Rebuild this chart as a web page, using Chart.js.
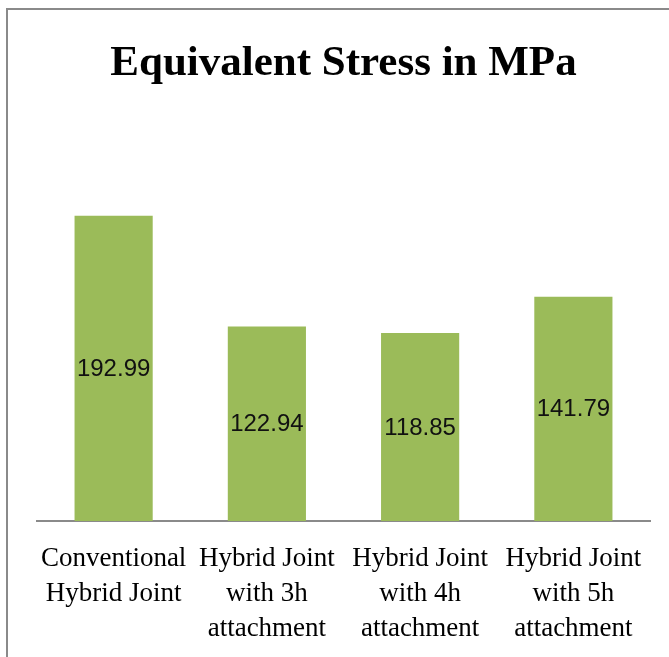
<!DOCTYPE html>
<html>
<head>
<meta charset="utf-8">
<script src="https://cdn.jsdelivr.net/npm/chart.js@4/dist/chart.umd.min.js"></script>
<style>
  html, body { margin: 0; padding: 0; background: #fff; }
  #wrap { position: relative; width: 669px; height: 657px; overflow: hidden; }
  #stress-chart { position: absolute; left: 0; top: 0; }
  /* chart frame: only top and left edges show inside the crop */
  #frame {
    position: absolute; left: 6px; top: 8px; width: 700px; height: 700px;
    border-top: 2px solid #8a8a8a; border-left: 2px solid #8a8a8a;
    pointer-events: none;
  }
</style>
</head>
<body>
<div id="wrap">
  <canvas id="stress-chart" width="669" height="657"></canvas>
  <div id="frame"></div>
</div>
<script>
(function () {
    'use strict';

    /* ── Data ── */
    var categories = [
        ['Conventional', 'Hybrid Joint'],
        ['Hybrid Joint', 'with 3h', 'attachment'],
        ['Hybrid Joint', 'with 4h', 'attachment'],
        ['Hybrid Joint', 'with 5h', 'attachment']
    ];
    var stressValues = [192.99, 122.94, 118.85, 141.79];
    var yAxisMax = 250;

    var barGreen = '#9bbb59';

    /* ── Value labels drawn in the middle of each bar ── */
    var centreLabels = {
        id: 'centreLabels',
        afterDatasetsDraw: function (chart) {
            var ctx = chart.ctx;
            var meta = chart.getDatasetMeta(0);
            ctx.save();
            ctx.font = '24px "Liberation Sans", Arial, sans-serif';
            ctx.fillStyle = '#111';
            ctx.textAlign = 'center';
            ctx.textBaseline = 'middle';
            meta.data.forEach(function (bar, i) {
                var mid = (bar.y + bar.base) / 2;
                ctx.fillText(stressValues[i].toFixed(2), bar.x, mid + 1);
            });
            ctx.restore();
        }
    };

    new Chart(document.getElementById('stress-chart'), {
        type: 'bar',
        data: {
            labels: categories,
            datasets: [{
                label: 'Equivalent Stress',
                data: stressValues,
                backgroundColor: barGreen,
                borderWidth: 0,
                categoryPercentage: 1,
                barPercentage: 0.51
            }]
        },
        options: {
            responsive: false,
            animation: false,
            devicePixelRatio: 1,
            layout: {
                padding: { left: 37, right: 19, top: 0, bottom: 0 }
            },
            plugins: {
                legend: { display: false },
                tooltip: { enabled: false },
                title: {
                    display: true,
                    text: 'Equivalent Stress in MPa',
                    color: '#000',
                    font: { family: '"Liberation Serif", "Times New Roman", serif', size: 43, weight: 'bold', lineHeight: 1.2 },
                    padding: { top: 38, bottom: 36 }
                }
            },
            scales: {
                x: {
                    grid: { display: false },
                    border: { display: true, color: '#8a8a8a', width: 2 },
                    ticks: {
                        color: '#000',
                        maxRotation: 0,
                        autoSkip: false,
                        padding: 12,
                        font: { family: '"Liberation Serif", "Times New Roman", serif', size: 27, lineHeight: 1.3 }
                    },
                    afterFit: function (scale) { scale.height = 136; }
                },
                y: {
                    display: false,
                    min: 0,
                    max: yAxisMax
                }
            }
        },
        plugins: [centreLabels]
    });
})();
</script>
</body>
</html>
